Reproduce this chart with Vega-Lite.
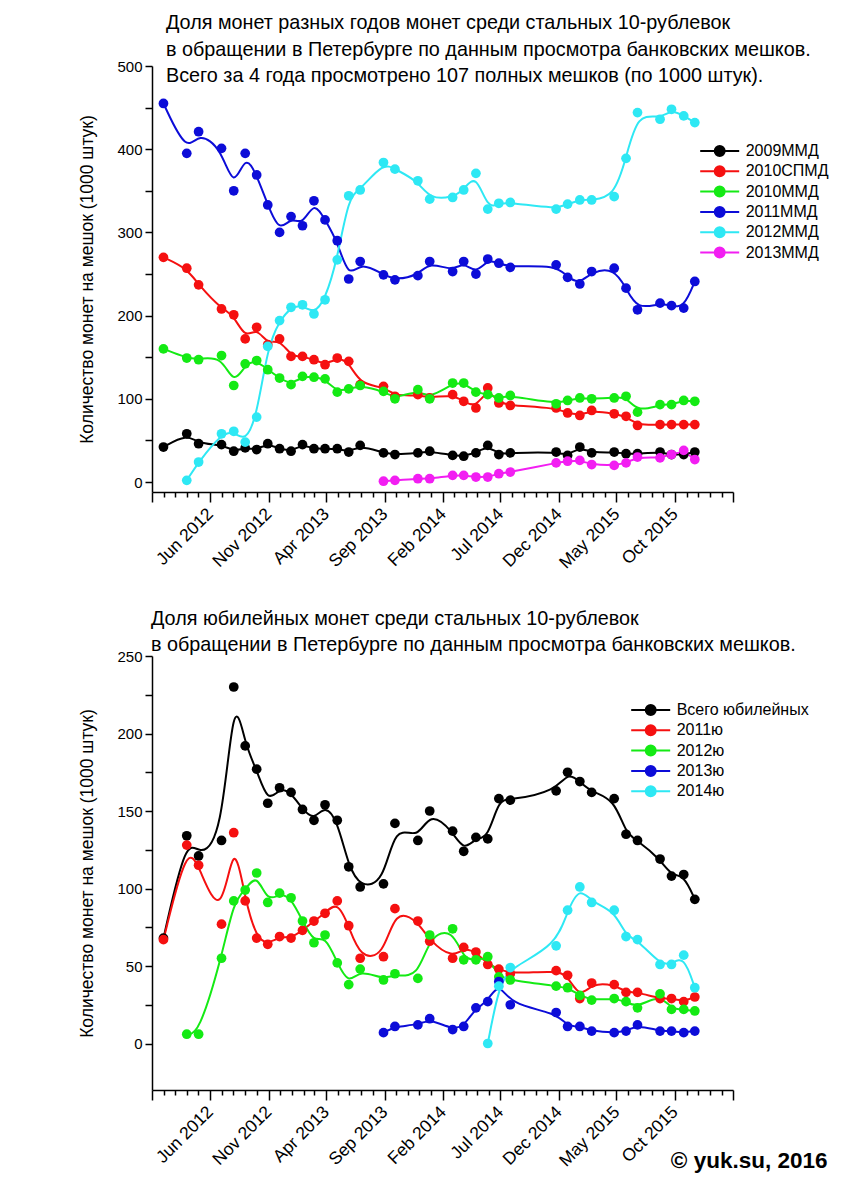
{
  "$schema": "https://vega.github.io/schema/vega-lite/v6.json",
  "background": "white",
  "padding": {"left": 78, "top": 13, "right": 10, "bottom": 5},
  "config": {
    "view": {"stroke": null},
    "font": "Liberation Sans",
    "axis": {"labelFont": "Liberation Sans", "titleFont": "Liberation Sans", "labelColor": "#000", "titleColor": "#000", "domainColor": "#000", "tickColor": "#000", "grid": false, "domainWidth": 1.5, "tickWidth": 1.5, "labelFontSize": 15, "titleFontSize": 17.5, "titleFontWeight": "normal"},
    "legend": {"orient": "none", "title": null, "padding": 0, "labelFont": "Liberation Sans", "labelFontSize": 16, "labelColor": "#000", "labelLimit": 0, "symbolType": "M-3.25,0H3.25M0.83,0A0.83,0.83,0,1,1,-0.83,0A0.83,0.83,0,1,1,0.83,0Z", "symbolSize": 144, "symbolStrokeWidth": 2, "labelOffset": 18, "rowPadding": 2.3},
    "title": {"font": "Liberation Sans", "fontWeight": "normal", "color": "#000", "fontSize": 19.8, "lineHeight": 26.5, "anchor": "start", "frame": "group", "baseline": "bottom"}
  },
  "datasets": {
    "top": [
      {"d":"2012-01-31","s":"2009ММД","v":42},{"d":"2012-04-01","s":"2009ММД","v":58},{"d":"2012-05-02","s":"2009ММД","v":46},{"d":"2012-07-01","s":"2009ММД","v":45},{"d":"2012-08-02","s":"2009ММД","v":37},{"d":"2012-09-01","s":"2009ММД","v":41},{"d":"2012-10-01","s":"2009ММД","v":39},{"d":"2012-10-30","s":"2009ММД","v":46},{"d":"2012-11-30","s":"2009ММД","v":40},{"d":"2012-12-30","s":"2009ММД","v":37},{"d":"2013-01-29","s":"2009ММД","v":45},{"d":"2013-02-28","s":"2009ММД","v":40},{"d":"2013-03-29","s":"2009ММД","v":40},{"d":"2013-04-30","s":"2009ММД","v":40},{"d":"2013-05-30","s":"2009ММД","v":36},{"d":"2013-06-29","s":"2009ММД","v":44},{"d":"2013-08-29","s":"2009ММД","v":35},{"d":"2013-09-28","s":"2009ММД","v":33},{"d":"2013-11-27","s":"2009ММД","v":35},{"d":"2013-12-28","s":"2009ММД","v":37},{"d":"2014-02-26","s":"2009ММД","v":32},{"d":"2014-03-27","s":"2009ММД","v":31},{"d":"2014-04-28","s":"2009ММД","v":35},{"d":"2014-05-29","s":"2009ММД","v":44},{"d":"2014-06-27","s":"2009ММД","v":33},{"d":"2014-07-27","s":"2009ММД","v":35},{"d":"2014-11-24","s":"2009ММД","v":36},{"d":"2014-12-24","s":"2009ММД","v":32},{"d":"2015-01-25","s":"2009ММД","v":42},{"d":"2015-02-25","s":"2009ММД","v":35},{"d":"2015-04-25","s":"2009ММД","v":36},{"d":"2015-05-26","s":"2009ММД","v":34},{"d":"2015-06-25","s":"2009ММД","v":34},{"d":"2015-08-23","s":"2009ММД","v":36},{"d":"2015-09-22","s":"2009ММД","v":33},{"d":"2015-10-24","s":"2009ММД","v":33},{"d":"2015-11-22","s":"2009ММД","v":36},
      {"d":"2012-01-31","s":"2010СПМД","v":270},{"d":"2012-04-01","s":"2010СПМД","v":257},{"d":"2012-05-02","s":"2010СПМД","v":237},{"d":"2012-07-01","s":"2010СПМД","v":208},{"d":"2012-08-02","s":"2010СПМД","v":201},{"d":"2012-09-01","s":"2010СПМД","v":172},{"d":"2012-10-01","s":"2010СПМД","v":186},{"d":"2012-10-30","s":"2010СПМД","v":165},{"d":"2012-11-30","s":"2010СПМД","v":172},{"d":"2012-12-30","s":"2010СПМД","v":151},{"d":"2013-01-29","s":"2010СПМД","v":151},{"d":"2013-02-28","s":"2010СПМД","v":147},{"d":"2013-03-29","s":"2010СПМД","v":141},{"d":"2013-04-30","s":"2010СПМД","v":149},{"d":"2013-05-30","s":"2010СПМД","v":145},{"d":"2013-06-29","s":"2010СПМД","v":117},{"d":"2013-08-29","s":"2010СПМД","v":115},{"d":"2013-09-28","s":"2010СПМД","v":103},{"d":"2013-11-27","s":"2010СПМД","v":105},{"d":"2013-12-28","s":"2010СПМД","v":101},{"d":"2014-02-26","s":"2010СПМД","v":105},{"d":"2014-03-27","s":"2010СПМД","v":97},{"d":"2014-04-28","s":"2010СПМД","v":89},{"d":"2014-05-29","s":"2010СПМД","v":113},{"d":"2014-06-27","s":"2010СПМД","v":95},{"d":"2014-07-27","s":"2010СПМД","v":92},{"d":"2014-11-24","s":"2010СПМД","v":89},{"d":"2014-12-24","s":"2010СПМД","v":83},{"d":"2015-01-25","s":"2010СПМД","v":80},{"d":"2015-02-25","s":"2010СПМД","v":86},{"d":"2015-04-25","s":"2010СПМД","v":82},{"d":"2015-05-26","s":"2010СПМД","v":79},{"d":"2015-06-25","s":"2010СПМД","v":68},{"d":"2015-08-23","s":"2010СПМД","v":69},{"d":"2015-09-22","s":"2010СПМД","v":69},{"d":"2015-10-24","s":"2010СПМД","v":69},{"d":"2015-11-22","s":"2010СПМД","v":69},
      {"d":"2012-01-31","s":"2010ММД","v":160},{"d":"2012-04-01","s":"2010ММД","v":149},{"d":"2012-05-02","s":"2010ММД","v":147},{"d":"2012-07-01","s":"2010ММД","v":152},{"d":"2012-08-02","s":"2010ММД","v":116},{"d":"2012-09-01","s":"2010ММД","v":142},{"d":"2012-10-01","s":"2010ММД","v":146},{"d":"2012-10-30","s":"2010ММД","v":135},{"d":"2012-11-30","s":"2010ММД","v":125},{"d":"2012-12-30","s":"2010ММД","v":117},{"d":"2013-01-29","s":"2010ММД","v":127},{"d":"2013-02-28","s":"2010ММД","v":126},{"d":"2013-03-29","s":"2010ММД","v":124},{"d":"2013-04-30","s":"2010ММД","v":108},{"d":"2013-05-30","s":"2010ММД","v":112},{"d":"2013-06-29","s":"2010ММД","v":116},{"d":"2013-08-29","s":"2010ММД","v":109},{"d":"2013-09-28","s":"2010ММД","v":100},{"d":"2013-11-27","s":"2010ММД","v":111},{"d":"2013-12-28","s":"2010ММД","v":100},{"d":"2014-02-26","s":"2010ММД","v":119},{"d":"2014-03-27","s":"2010ММД","v":119},{"d":"2014-04-28","s":"2010ММД","v":108},{"d":"2014-05-29","s":"2010ММД","v":105},{"d":"2014-06-27","s":"2010ММД","v":101},{"d":"2014-07-27","s":"2010ММД","v":104},{"d":"2014-11-24","s":"2010ММД","v":94},{"d":"2014-12-24","s":"2010ММД","v":98},{"d":"2015-01-25","s":"2010ММД","v":101},{"d":"2015-02-25","s":"2010ММД","v":100},{"d":"2015-04-25","s":"2010ММД","v":101},{"d":"2015-05-26","s":"2010ММД","v":103},{"d":"2015-06-25","s":"2010ММД","v":84},{"d":"2015-08-23","s":"2010ММД","v":93},{"d":"2015-09-22","s":"2010ММД","v":93},{"d":"2015-10-24","s":"2010ММД","v":98},{"d":"2015-11-22","s":"2010ММД","v":97},
      {"d":"2012-01-31","s":"2011ММД","v":455},{"d":"2012-04-01","s":"2011ММД","v":395},{"d":"2012-05-02","s":"2011ММД","v":421},{"d":"2012-07-01","s":"2011ММД","v":401},{"d":"2012-08-02","s":"2011ММД","v":350},{"d":"2012-09-01","s":"2011ММД","v":395},{"d":"2012-10-01","s":"2011ММД","v":369},{"d":"2012-10-30","s":"2011ММД","v":333},{"d":"2012-11-30","s":"2011ММД","v":300},{"d":"2012-12-30","s":"2011ММД","v":319},{"d":"2013-01-29","s":"2011ММД","v":308},{"d":"2013-02-28","s":"2011ММД","v":338},{"d":"2013-03-29","s":"2011ММД","v":315},{"d":"2013-04-30","s":"2011ММД","v":290},{"d":"2013-05-30","s":"2011ММД","v":244},{"d":"2013-06-29","s":"2011ММД","v":265},{"d":"2013-08-29","s":"2011ММД","v":249},{"d":"2013-09-28","s":"2011ММД","v":243},{"d":"2013-11-27","s":"2011ММД","v":248},{"d":"2013-12-28","s":"2011ММД","v":265},{"d":"2014-02-26","s":"2011ММД","v":253},{"d":"2014-03-27","s":"2011ММД","v":265},{"d":"2014-04-28","s":"2011ММД","v":250},{"d":"2014-05-29","s":"2011ММД","v":268},{"d":"2014-06-27","s":"2011ММД","v":263},{"d":"2014-07-27","s":"2011ММД","v":258},{"d":"2014-11-24","s":"2011ММД","v":261},{"d":"2014-12-24","s":"2011ММД","v":246},{"d":"2015-01-25","s":"2011ММД","v":238},{"d":"2015-02-25","s":"2011ММД","v":253},{"d":"2015-04-25","s":"2011ММД","v":257},{"d":"2015-05-26","s":"2011ММД","v":233},{"d":"2015-06-25","s":"2011ММД","v":207},{"d":"2015-08-23","s":"2011ММД","v":215},{"d":"2015-09-22","s":"2011ММД","v":212},{"d":"2015-10-24","s":"2011ММД","v":209},{"d":"2015-11-22","s":"2011ММД","v":241},
      {"d":"2012-04-01","s":"2012ММД","v":2},{"d":"2012-05-02","s":"2012ММД","v":24},{"d":"2012-07-01","s":"2012ММД","v":58},{"d":"2012-08-02","s":"2012ММД","v":61},{"d":"2012-09-01","s":"2012ММД","v":48},{"d":"2012-10-01","s":"2012ММД","v":78},{"d":"2012-10-30","s":"2012ММД","v":163},{"d":"2012-11-30","s":"2012ММД","v":194},{"d":"2012-12-30","s":"2012ММД","v":210},{"d":"2013-01-29","s":"2012ММД","v":213},{"d":"2013-02-28","s":"2012ММД","v":202},{"d":"2013-03-29","s":"2012ММД","v":219},{"d":"2013-04-30","s":"2012ММД","v":267},{"d":"2013-05-30","s":"2012ММД","v":344},{"d":"2013-06-29","s":"2012ММД","v":351},{"d":"2013-08-29","s":"2012ММД","v":384},{"d":"2013-09-28","s":"2012ММД","v":376},{"d":"2013-11-27","s":"2012ММД","v":362},{"d":"2013-12-28","s":"2012ММД","v":340},{"d":"2014-02-26","s":"2012ММД","v":342},{"d":"2014-03-27","s":"2012ММД","v":351},{"d":"2014-04-28","s":"2012ММД","v":371},{"d":"2014-05-29","s":"2012ММД","v":328},{"d":"2014-06-27","s":"2012ММД","v":335},{"d":"2014-07-27","s":"2012ММД","v":336},{"d":"2014-11-24","s":"2012ММД","v":328},{"d":"2014-12-24","s":"2012ММД","v":334},{"d":"2015-01-25","s":"2012ММД","v":339},{"d":"2015-02-25","s":"2012ММД","v":339},{"d":"2015-04-25","s":"2012ММД","v":343},{"d":"2015-05-26","s":"2012ММД","v":389},{"d":"2015-06-25","s":"2012ММД","v":444},{"d":"2015-08-23","s":"2012ММД","v":436},{"d":"2015-09-22","s":"2012ММД","v":448},{"d":"2015-10-24","s":"2012ММД","v":440},{"d":"2015-11-22","s":"2012ММД","v":432},
      {"d":"2013-08-29","s":"2013ММД","v":1},{"d":"2013-09-28","s":"2013ММД","v":2},{"d":"2013-11-27","s":"2013ММД","v":4},{"d":"2013-12-28","s":"2013ММД","v":4},{"d":"2014-02-26","s":"2013ММД","v":8},{"d":"2014-03-27","s":"2013ММД","v":8},{"d":"2014-04-28","s":"2013ММД","v":6},{"d":"2014-05-29","s":"2013ММД","v":6},{"d":"2014-06-27","s":"2013ММД","v":10},{"d":"2014-07-27","s":"2013ММД","v":12},{"d":"2014-11-24","s":"2013ММД","v":23},{"d":"2014-12-24","s":"2013ММД","v":25},{"d":"2015-01-25","s":"2013ММД","v":26},{"d":"2015-02-25","s":"2013ММД","v":21},{"d":"2015-04-25","s":"2013ММД","v":20},{"d":"2015-05-26","s":"2013ММД","v":23},{"d":"2015-06-25","s":"2013ММД","v":30},{"d":"2015-08-23","s":"2013ММД","v":29},{"d":"2015-09-22","s":"2013ММД","v":33},{"d":"2015-10-24","s":"2013ММД","v":38},{"d":"2015-11-22","s":"2013ММД","v":27}
    ],
    "bot": [
      {"d":"2012-01-31","s":"Всего юбилейных","v":68},{"d":"2012-04-01","s":"Всего юбилейных","v":134},{"d":"2012-05-02","s":"Всего юбилейных","v":121},{"d":"2012-07-01","s":"Всего юбилейных","v":131},{"d":"2012-08-02","s":"Всего юбилейных","v":230},{"d":"2012-09-01","s":"Всего юбилейных","v":192},{"d":"2012-10-01","s":"Всего юбилейных","v":177},{"d":"2012-10-30","s":"Всего юбилейных","v":155},{"d":"2012-11-30","s":"Всего юбилейных","v":165},{"d":"2012-12-30","s":"Всего юбилейных","v":162},{"d":"2013-01-29","s":"Всего юбилейных","v":151},{"d":"2013-02-28","s":"Всего юбилейных","v":144},{"d":"2013-03-29","s":"Всего юбилейных","v":154},{"d":"2013-04-30","s":"Всего юбилейных","v":144},{"d":"2013-05-30","s":"Всего юбилейных","v":114},{"d":"2013-06-29","s":"Всего юбилейных","v":101},{"d":"2013-08-29","s":"Всего юбилейных","v":103},{"d":"2013-09-28","s":"Всего юбилейных","v":142},{"d":"2013-11-27","s":"Всего юбилейных","v":131},{"d":"2013-12-28","s":"Всего юбилейных","v":150},{"d":"2014-02-26","s":"Всего юбилейных","v":137},{"d":"2014-03-27","s":"Всего юбилейных","v":124},{"d":"2014-04-28","s":"Всего юбилейных","v":133},{"d":"2014-05-29","s":"Всего юбилейных","v":132},{"d":"2014-06-27","s":"Всего юбилейных","v":158},{"d":"2014-07-27","s":"Всего юбилейных","v":157},{"d":"2014-11-24","s":"Всего юбилейных","v":163},{"d":"2014-12-24","s":"Всего юбилейных","v":175},{"d":"2015-01-25","s":"Всего юбилейных","v":169},{"d":"2015-02-25","s":"Всего юбилейных","v":162},{"d":"2015-04-25","s":"Всего юбилейных","v":158},{"d":"2015-05-26","s":"Всего юбилейных","v":135},{"d":"2015-06-25","s":"Всего юбилейных","v":131},{"d":"2015-08-23","s":"Всего юбилейных","v":119},{"d":"2015-09-22","s":"Всего юбилейных","v":108},{"d":"2015-10-24","s":"Всего юбилейных","v":109},{"d":"2015-11-22","s":"Всего юбилейных","v":93},
      {"d":"2012-01-31","s":"2011ю","v":67},{"d":"2012-04-01","s":"2011ю","v":128},{"d":"2012-05-02","s":"2011ю","v":115},{"d":"2012-07-01","s":"2011ю","v":77},{"d":"2012-08-02","s":"2011ю","v":136},{"d":"2012-09-01","s":"2011ю","v":92},{"d":"2012-10-01","s":"2011ю","v":68},{"d":"2012-10-30","s":"2011ю","v":64},{"d":"2012-11-30","s":"2011ю","v":69},{"d":"2012-12-30","s":"2011ю","v":68},{"d":"2013-01-29","s":"2011ю","v":73},{"d":"2013-02-28","s":"2011ю","v":79},{"d":"2013-03-29","s":"2011ю","v":84},{"d":"2013-04-30","s":"2011ю","v":92},{"d":"2013-05-30","s":"2011ю","v":76},{"d":"2013-06-29","s":"2011ю","v":55},{"d":"2013-08-29","s":"2011ю","v":56},{"d":"2013-09-28","s":"2011ю","v":87},{"d":"2013-11-27","s":"2011ю","v":79},{"d":"2013-12-28","s":"2011ю","v":66},{"d":"2014-02-26","s":"2011ю","v":55},{"d":"2014-03-27","s":"2011ю","v":62},{"d":"2014-04-28","s":"2011ю","v":59},{"d":"2014-05-29","s":"2011ю","v":51},{"d":"2014-06-27","s":"2011ю","v":48},{"d":"2014-07-27","s":"2011ю","v":45},{"d":"2014-11-24","s":"2011ю","v":47},{"d":"2014-12-24","s":"2011ю","v":44},{"d":"2015-01-25","s":"2011ю","v":29},{"d":"2015-02-25","s":"2011ю","v":39},{"d":"2015-04-25","s":"2011ю","v":38},{"d":"2015-05-26","s":"2011ю","v":33},{"d":"2015-06-25","s":"2011ю","v":33},{"d":"2015-08-23","s":"2011ю","v":29},{"d":"2015-09-22","s":"2011ю","v":29},{"d":"2015-10-24","s":"2011ю","v":27},{"d":"2015-11-22","s":"2011ю","v":30},
      {"d":"2012-04-01","s":"2012ю","v":6},{"d":"2012-05-02","s":"2012ю","v":6},{"d":"2012-07-01","s":"2012ю","v":55},{"d":"2012-08-02","s":"2012ю","v":92},{"d":"2012-09-01","s":"2012ю","v":99},{"d":"2012-10-01","s":"2012ю","v":110},{"d":"2012-10-30","s":"2012ю","v":91},{"d":"2012-11-30","s":"2012ю","v":97},{"d":"2012-12-30","s":"2012ю","v":94},{"d":"2013-01-29","s":"2012ю","v":79},{"d":"2013-02-28","s":"2012ю","v":65},{"d":"2013-03-29","s":"2012ю","v":70},{"d":"2013-04-30","s":"2012ю","v":52},{"d":"2013-05-30","s":"2012ю","v":38},{"d":"2013-06-29","s":"2012ю","v":48},{"d":"2013-08-29","s":"2012ю","v":41},{"d":"2013-09-28","s":"2012ю","v":45},{"d":"2013-11-27","s":"2012ю","v":42},{"d":"2013-12-28","s":"2012ю","v":70},{"d":"2014-02-26","s":"2012ю","v":74},{"d":"2014-03-27","s":"2012ю","v":54},{"d":"2014-04-28","s":"2012ю","v":54},{"d":"2014-05-29","s":"2012ю","v":56},{"d":"2014-06-27","s":"2012ю","v":43},{"d":"2014-07-27","s":"2012ю","v":41},{"d":"2014-11-24","s":"2012ю","v":37},{"d":"2014-12-24","s":"2012ю","v":36},{"d":"2015-01-25","s":"2012ю","v":31},{"d":"2015-02-25","s":"2012ю","v":28},{"d":"2015-04-25","s":"2012ю","v":29},{"d":"2015-05-26","s":"2012ю","v":27},{"d":"2015-06-25","s":"2012ю","v":23},{"d":"2015-08-23","s":"2012ю","v":32},{"d":"2015-09-22","s":"2012ю","v":22},{"d":"2015-10-24","s":"2012ю","v":22},{"d":"2015-11-22","s":"2012ю","v":21},
      {"d":"2013-08-29","s":"2013ю","v":7},{"d":"2013-09-28","s":"2013ю","v":11},{"d":"2013-11-27","s":"2013ю","v":12},{"d":"2013-12-28","s":"2013ю","v":16},{"d":"2014-02-26","s":"2013ю","v":9},{"d":"2014-03-27","s":"2013ю","v":11},{"d":"2014-04-28","s":"2013ю","v":23},{"d":"2014-05-29","s":"2013ю","v":27},{"d":"2014-06-27","s":"2013ю","v":40},{"d":"2014-07-27","s":"2013ю","v":25},{"d":"2014-11-24","s":"2013ю","v":20},{"d":"2014-12-24","s":"2013ю","v":11},{"d":"2015-01-25","s":"2013ю","v":11},{"d":"2015-02-25","s":"2013ю","v":8},{"d":"2015-04-25","s":"2013ю","v":7},{"d":"2015-05-26","s":"2013ю","v":8},{"d":"2015-06-25","s":"2013ю","v":12},{"d":"2015-08-23","s":"2013ю","v":8},{"d":"2015-09-22","s":"2013ю","v":8},{"d":"2015-10-24","s":"2013ю","v":7},{"d":"2015-11-22","s":"2013ю","v":8},
      {"d":"2014-05-29","s":"2014ю","v":0},{"d":"2014-06-27","s":"2014ю","v":37},{"d":"2014-07-27","s":"2014ю","v":49},{"d":"2014-11-24","s":"2014ю","v":63},{"d":"2014-12-24","s":"2014ю","v":86},{"d":"2015-01-25","s":"2014ю","v":101},{"d":"2015-02-25","s":"2014ю","v":91},{"d":"2015-04-25","s":"2014ю","v":86},{"d":"2015-05-26","s":"2014ю","v":69},{"d":"2015-06-25","s":"2014ю","v":67},{"d":"2015-08-23","s":"2014ю","v":51},{"d":"2015-09-22","s":"2014ю","v":51},{"d":"2015-10-24","s":"2014ю","v":57},{"d":"2015-11-22","s":"2014ю","v":36}
    ]
  },
  "spacing": 36,
  "resolve": {"scale": {"color": "independent"}, "legend": {"color": "independent"}},
  "vconcat": [
    {
      "name": "top",
      "width": 581,
      "height": 426,
      "data": {"name": "top"},
      "title": {"text": ["Доля монет разных годов монет среди стальных 10-рублевок", "в обращении в Петербурге по данным просмотра банковских мешков.", "Всего за 4 года просмотрено 107 полных мешков (по 1000 штук)."], "dx": 14, "offset": -27},
      "encoding": {
        "x": {"field": "d", "type": "temporal",
          "scale": {"type": "utc", "domain": [{"year": 2012, "month": 1, "date": 1, "utc": true}, {"year": 2016, "month": 3, "date": 1, "utc": true}], "nice": false},
          "axis": {"title": null, "tickCount": {"interval": "month", "step": 1},
            "tickSize": {"condition": {"test": "((utcyear(datum.value)-2012)*12 + utcmonth(datum.value)) % 5 == 0", "value": 10}, "value": 5},
            "labelExpr": "(((utcyear(datum.value)-2012)*12 + utcmonth(datum.value)) % 5 == 0) && datum.value > utc(2012,0,15) && datum.value < utc(2016,1,1) ? utcFormat(datum.value, '%b %Y') : ''",
            "labelAngle": -45, "labelAlign": "right", "labelBaseline": "middle", "labelPadding": 9, "labelOverlap": false, "labelFlush": false, "labelBound": false, "labelFontSize": 17.5}},
        "y": {"field": "v", "type": "quantitative",
          "scale": {"domain": [-12, 500], "nice": false, "zero": false},
          "axis": {"values": [0,50,100,150,200,250,300,350,400,450,500], "labelExpr": "datum.value % 100 == 0 ? datum.label : ''", "title": "Количество монет на мешок (1000 штук)", "tickSize": 7, "labelPadding": 3, "titlePadding": 20}},
        "color": {"field": "s", "type": "nominal",
          "scale": {"domain": ["2009ММД","2010СПМД","2010ММД","2011ММД","2012ММД","2013ММД"], "range": ["#000000","#f51010","#14ea14","#0c0cd8","#2ee8f4","#f21ef2"]},
          "legend": {"legendX": 559.7, "legendY": 77,
            "encode": {"symbols": {"update": {"fill": {"scale": "top_color", "field": "value"}, "stroke": {"scale": "top_color", "field": "value"}, "strokeWidth": {"value": 2}}}}}}
      },
      "layer": [
        {"mark": {"type": "line", "interpolate": "basis", "strokeWidth": 2}},
        {"mark": {"type": "point", "filled": true, "size": 95, "opacity": 1}}
      ]
    },
    {
      "name": "bot",
      "width": 581,
      "height": 434,
      "data": {"name": "bot"},
      "title": {"text": ["Доля юбилейных монет среди стальных 10-рублевок", "в обращении в Петербурге по данным просмотра банковских мешков."], "dx": -1, "offset": -6},
      "encoding": {
        "x": {"field": "d", "type": "temporal",
          "scale": {"type": "utc", "domain": [{"year": 2012, "month": 1, "date": 1, "utc": true}, {"year": 2016, "month": 3, "date": 1, "utc": true}], "nice": false},
          "axis": {"title": "© yuk.su, 2016", "titleFontSize": 22.5, "titleFontWeight": "bold", "titleAlign": "right", "titleAnchor": "end", "titleX": 675, "titleY": 77, "titleBaseline": "alphabetic",
            "tickCount": {"interval": "month", "step": 1},
            "tickSize": {"condition": {"test": "((utcyear(datum.value)-2012)*12 + utcmonth(datum.value)) % 5 == 0", "value": 10}, "value": 5},
            "labelExpr": "(((utcyear(datum.value)-2012)*12 + utcmonth(datum.value)) % 5 == 0) && datum.value > utc(2012,0,15) && datum.value < utc(2016,1,1) ? utcFormat(datum.value, '%b %Y') : ''",
            "labelAngle": -45, "labelAlign": "right", "labelBaseline": "middle", "labelPadding": 9, "labelOverlap": false, "labelFlush": false, "labelBound": false, "labelFontSize": 17.5}},
        "y": {"field": "v", "type": "quantitative",
          "scale": {"domain": [-30, 250], "nice": false, "zero": false},
          "axis": {"values": [0,25,50,75,100,125,150,175,200,225,250], "labelExpr": "datum.value % 50 == 0 ? datum.label : ''", "title": "Количество монет на мешок (1000 штук)", "tickSize": 7, "labelPadding": 3, "titlePadding": 20}},
        "color": {"field": "s", "type": "nominal",
          "scale": {"domain": ["Всего юбилейных","2011ю","2012ю","2013ю","2014ю"], "range": ["#000000","#f51010","#14ea14","#0c0cd8","#2ee8f4"]},
          "legend": {"legendX": 490.7, "legendY": 46,
            "encode": {"symbols": {"update": {"fill": {"scale": "bot_color", "field": "value"}, "stroke": {"scale": "bot_color", "field": "value"}, "strokeWidth": {"value": 2}}}}}}
      },
      "layer": [
        {"mark": {"type": "line", "interpolate": "basis", "strokeWidth": 2}},
        {"mark": {"type": "point", "filled": true, "size": 95, "opacity": 1}}
      ]
    }
  ]
}
